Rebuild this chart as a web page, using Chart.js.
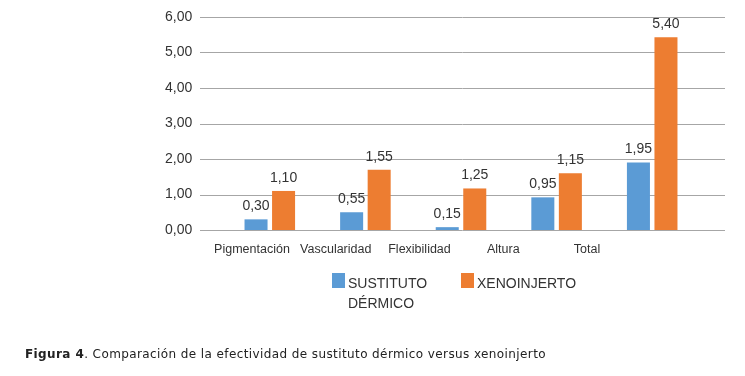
<!DOCTYPE html>
<html>
<head>
<meta charset="utf-8">
<script src="https://cdn.jsdelivr.net/npm/chart.js@4"></script>
<style>
  html, body { margin: 0; padding: 0; background: #fff; }
  #wrap { position: relative; width: 745px; height: 376px; }
  #chart { position: absolute; left: 0; top: 0; }
  #legend { position: absolute; left: 332px; top: 273px; display: flex;
            font: 14px "Liberation Sans", Arial, sans-serif; color: #333; }
  .item { display: flex; align-items: flex-start; }
  .sw { width: 13px; height: 15px; margin-right: 3px; }
  .txt { line-height: 20px; margin-top: 0; }
  #caption { position: absolute; left: 25px; top: 347px; font: 12px "DejaVu Sans", Verdana, sans-serif;
             letter-spacing: 0.4px; color: #222; white-space: nowrap; }
</style>
</head>
<body>
<div id="wrap">
  <canvas id="chart" width="745" height="376"></canvas>
  <div id="legend"></div>
  <div id="caption"><b>Figura 4</b>. Comparación de la efectividad de sustituto dérmico versus xenoinjerto</div>
</div>
<script>
const CATEGORIES = ['Pigmentación', 'Vascularidad', 'Flexibilidad', 'Altura', 'Total'];
const SERIES_NAMES = ['SUSTITUTO DÉRMICO', 'XENOINJERTO'];
// bar heights as drawn in the figure
const SUSTITUTO = [0.30, 0.50, 0.08, 0.92, 1.90];
const XENO = [1.10, 1.70, 1.17, 1.60, 5.43];
// value labels as printed above the bars
const SUSTITUTO_LABELS = [0.30, 0.55, 0.15, 0.95, 1.95];
const XENO_LABELS = [1.10, 1.55, 1.25, 1.15, 5.40];
const Y_TICKS = [0, 1, 2, 3, 4, 5, 6];
const COLORS = ['#5b9bd5', '#ed7d31'];

function el(id) { return document.getElementById(id); }
function fmt(n) { return n.toFixed(2).replace('.', ','); }

const FONT = '"Liberation Sans", Arial, sans-serif';

// horizontal grid lines run a little past the category band
const gridPlugin = {
  id: 'wideGrid',
  beforeDatasetsDraw(chart) {
    const { ctx, chartArea, scales } = chart;
    ctx.save();
    ctx.strokeStyle = '#a6a6a6';
    ctx.lineWidth = 1;
    for (const v of Y_TICKS) {
      const y = Math.round(scales.y.getPixelForValue(v)) + 0.5;
      ctx.beginPath();
      ctx.moveTo(chartArea.left - 22, y);
      ctx.lineTo(chartArea.right + 25, y);
      ctx.stroke();
    }
    ctx.restore();
  }
};

const labelPlugin = {
  id: 'barLabels',
  afterDatasetsDraw(chart) {
    const { ctx } = chart;
    const texts = [SUSTITUTO_LABELS, XENO_LABELS];
    ctx.save();
    ctx.font = `14px ${FONT}`;
    ctx.fillStyle = '#333';
    ctx.textAlign = 'center';
    ctx.textBaseline = 'middle';
    chart.data.datasets.forEach((ds, di) => {
      chart.getDatasetMeta(di).data.forEach((bar, i) => {
        ctx.fillText(fmt(texts[di][i]), bar.x, bar.y - 13);
      });
    });
    ctx.restore();
  }
};

new Chart(el('chart').getContext('2d'), {
  type: 'bar',
  data: {
    labels: CATEGORIES,
    datasets: [
      { label: SERIES_NAMES[0], data: SUSTITUTO, backgroundColor: COLORS[0] },
      { label: SERIES_NAMES[1], data: XENO, backgroundColor: COLORS[1] },
    ],
  },
  options: {
    responsive: false,
    animation: false,
    layout: { padding: { top: 17, right: 45, bottom: 116, left: 165 } },
    datasets: { bar: { categoryPercentage: 0.576, barPercentage: 0.836, borderWidth: 0 } },
    plugins: { legend: { display: false }, tooltip: { enabled: false } },
    scales: {
      x: { display: false },
      // category names sit on their own axis, a bit tighter than the bar groups
      xl: {
        type: 'linear', position: 'bottom', min: -0.358, max: 5.349, offset: false,
        grid: { display: false }, border: { display: false },
        afterBuildTicks: axis => { axis.ticks = CATEGORIES.map((_, i) => ({ value: i })); },
        afterFit: axis => { axis.height = 30; },
        ticks: { color: '#333', font: { family: FONT, size: 12.5 }, padding: 4, maxRotation: 0,
                 callback: v => CATEGORIES[v] },
      },
      y: {
        min: 0, max: 6,
        afterBuildTicks: axis => { axis.ticks = Y_TICKS.map(v => ({ value: v })); },
        afterFit: axis => { axis.width = 57; },
        grid: { display: false, drawTicks: false }, border: { display: false },
        ticks: { color: '#333', font: { family: FONT, size: 14 }, padding: 0, crossAlign: 'far',
                 callback: v => fmt(v) },
      },
    },
  },
  plugins: [gridPlugin, labelPlugin],
});

// legend below the plot, first name wraps like in the figure
SERIES_NAMES.forEach((name, i) => {
  const item = document.createElement('div');
  item.className = 'item';
  item.style.marginRight = i === 0 ? '23px' : '0';
  item.innerHTML = `<div class="sw" style="background:${COLORS[i]}"></div>` +
    `<div class="txt" style="width:${i === 0 ? 90 : 110}px">${name}</div>`;
  el('legend').appendChild(item);
});
</script>
</body>
</html>
